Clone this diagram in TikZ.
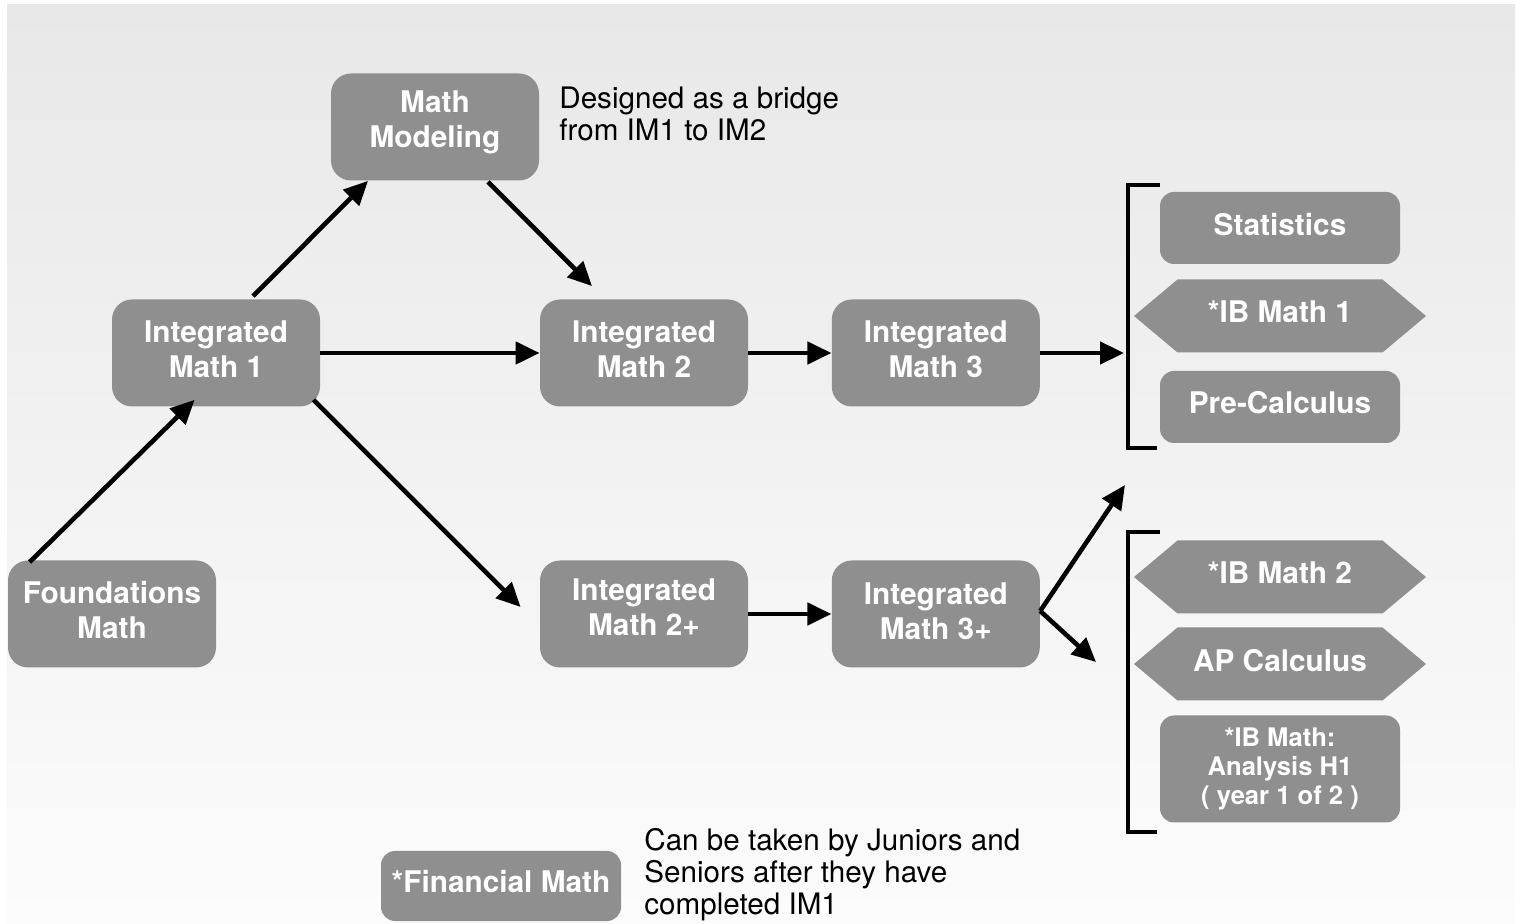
\documentclass[tikz,border=0pt]{standalone}
\usepackage{fontspec}
\setmainfont{TeX Gyre Heros}
\usetikzlibrary{shapes.symbols, arrows.meta, positioning}
\definecolor{boxgray}{HTML}{8F8F8F}
\definecolor{bgtop}{HTML}{E8E8E8}
\definecolor{bgbottom}{HTML}{FCFCFC}
\tikzstyle{course} = [rectangle, rounded corners=10pt, minimum width=104pt, minimum height=53.5pt, text depth=4pt, align=center, fill=boxgray, text=white, font=\bfseries\fontsize{14.9}{17.5}\selectfont]
\tikzstyle{option} = [course, rounded corners=7pt, minimum width=120pt, minimum height=36pt]
\tikzstyle{ibcourse} = [signal, signal to=east and west, signal pointer angle=80, minimum width=146pt, minimum height=36.5pt, text depth=4pt, align=center, fill=boxgray, text=white, font=\bfseries\fontsize{14.9}{17.5}\selectfont]
\tikzstyle{note} = [align=left, inner sep=0pt, anchor=north west, font=\fontsize{14.8}{16}\selectfont]
\tikzstyle{arrow} = [line width=2.3pt,-{Triangle[length=12pt,width=11pt]}]
\tikzstyle{bracket} = [line width=2.3pt]

\begin{document}
\begin{tikzpicture}[x=0.5pt, y=-0.5pt]

\useasboundingbox (0,0) rectangle (1522,924);
\fill [white] (0,0) rectangle (1522,924);
\shade [top color=bgtop, bottom color=bgbottom] (7,5) rectangle (1515,924);

% main sequence
\node (model) [course, text depth=8pt] at (435,127) {Math\\Modeling};
\node (im1) [course] at (216,353) {Integrated\\Math 1};
\node (im2) [course] at (644,353) {Integrated\\Math 2};
\node (im3) [course, right=41.5pt of im2] {Integrated\\Math 3};
\node (found) [course] at (112,614) {Foundations\\Math};
\node (im2p) [course, text depth=7pt] at (644,614) {Integrated\\Math 2+};
\node (im3p) [course, text depth=3pt, right=41.5pt of im2p] {Integrated\\Math 3+};

% senior options
\node (stats) [option] at (1280,228) {Statistics};
\node (ib1) [ibcourse] at (1280,316) {*IB Math 1};
\node (precalc) [option, text depth=5pt] at (1280,407) {Pre-Calculus};
\node (ib2) [ibcourse] at (1280,577) {*IB Math 2};
\node (apcalc) [ibcourse] at (1280,664) {AP Calculus};
\node (ibh1) [option, minimum height=53.5pt, text depth=2.8pt, font=\bfseries\fontsize{12.8}{14.5}\selectfont] at (1280,769) {*IB Math:\\Analysis H1\\( year 1 of 2 )};
\node (fin) [option, minimum height=35pt, text depth=5pt] at (501,886) {*Financial Math};

% notes
\node (bridge) [note] at (559,87) {Designed as a bridge\\from IM1 to IM2};
\node (juniors) [note] at (644,828) {Can be taken by Juniors and\\Seniors after they have\\completed IM1};

% brackets
\draw [bracket] (1160,185) -- (1128,185) -- (1128,448) -- (1157,448);
\draw [bracket] (1160,532) -- (1128,532) -- (1128,832) -- (1157,832);
\coordinate (upper) at (1124,353);
\coordinate (upleft) at (1125,485);
\coordinate (lowleft) at (1096,662);

\draw [arrow] ([xshift=11pt,yshift=-1pt]found.north west) -- ([xshift=41.5pt,yshift=3.5pt]im1.south west);
\draw [arrow] ([xshift=18.5pt,yshift=1.5pt]im1.north) -- ([xshift=-33.5pt]model.south);
\draw [arrow] ([xshift=26.5pt,yshift=-0.5pt]model.south) -- ([xshift=-26pt,yshift=6.5pt]im2.north);
\draw [arrow] (im1) -- (im2);
\draw [arrow] (im2) -- (im3);
\draw [arrow] (im3) -- (upper);
\draw [arrow] ([xshift=-3.5pt,yshift=3.5pt]im1.south east) -- ([xshift=-9.5pt,yshift=3.5pt]im2p.west);
\draw [arrow] (im2p) -- (im3p);
\draw [arrow] ([yshift=1.5pt]im3p.east) -- (upleft);
\draw [arrow] ([yshift=1.5pt]im3p.east) -- (lowleft);

\end{tikzpicture}
\end{document}
